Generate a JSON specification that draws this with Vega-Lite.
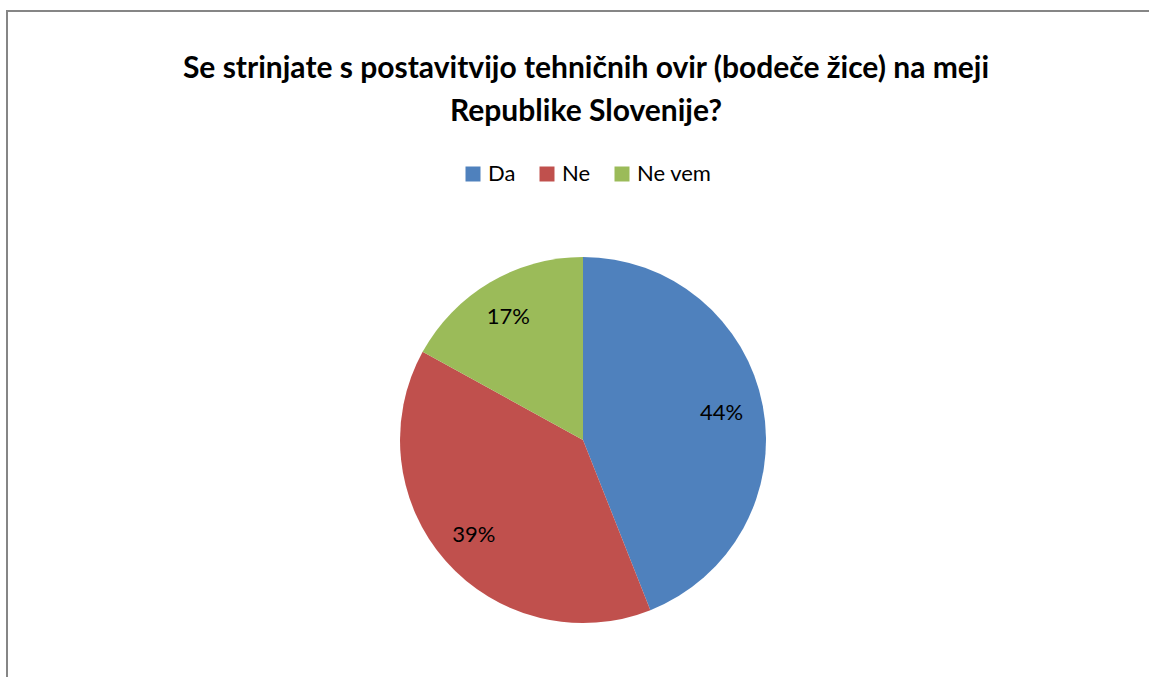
{
  "$schema": "https://vega.github.io/schema/vega-lite/v6.json",
  "width": 1152,
  "height": 858,
  "autosize": {"type": "none"},
  "padding": {"left": 7, "top": 11, "right": -10, "bottom": -192},
  "background": "white",
  "view": {"stroke": "#868686", "strokeWidth": 2, "fill": "white"},
  "title": {
    "text": ["  Se strinjate s postavitvijo tehničnih ovir (bodeče žice) na meji", "Republike Slovenije?"],
    "font": "Lato",
    "fontSize": 30,
    "fontWeight": "bold",
    "color": "black",
    "anchor": "middle",
    "frame": "group",
    "baseline": "top",
    "offset": 0,
    "lineHeight": 43,
    "dy": 116,
    "dx": 3
  },
  "data": {
    "values": [
      {"odgovor": "Da", "delez": 44, "oznaka": "44%"},
      {"odgovor": "Ne", "delez": 39, "oznaka": "39%"},
      {"odgovor": "Ne vem", "delez": 17, "oznaka": "17%"}
    ]
  },
  "encoding": {
    "theta": {"field": "delez", "type": "quantitative", "stack": true},
    "order": {"field": "odgovor", "sort": "ascending"},
    "color": {
      "field": "odgovor",
      "type": "nominal",
      "scale": {"domain": ["Da", "Ne", "Ne vem"], "range": ["#4F81BD", "#C0504D", "#9BBB59"]},
      "legend": {
        "title": null,
        "orient": "none",
        "legendX": 455,
        "legendY": 152,
        "direction": "horizontal",
        "symbolType": "square",
        "symbolSize": 225,
        "symbolStrokeWidth": 0,
        "labelFont": "Lato",
        "labelFontSize": 22,
        "labelColor": "black",
        "columnPadding": 20,
        "padding": 0
      }
    }
  },
  "layer": [
    {"mark": {"type": "arc", "outerRadius": 183}},
    {
      "mark": {"type": "text", "radius": 143, "font": "Lato", "fontSize": 22, "color": "black", "dx": -2, "dy": 0},
      "encoding": {"text": {"field": "oznaka"}, "color": {"value": "black"}}
    }
  ]
}
